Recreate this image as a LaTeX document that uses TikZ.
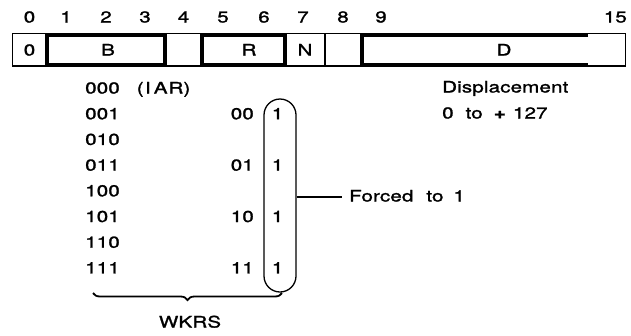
\documentclass[tikz,border=0pt]{standalone}
\usepackage{fontspec}
\setmainfont{TeX Gyre Heros}[FakeStretch=1.3, FakeBold=1.5, LetterSpace=1]
\usetikzlibrary{decorations.pathreplacing}

\begin{document}
\begin{tikzpicture}[x=1pt,y=-1pt,
  lbl/.style={inner sep=0pt, font=\fontsize{15.8}{18}\selectfont, text height=11pt, text depth=0pt},
  rule/.style={line width=1.3pt},
  fieldbox/.style={line width=3.6pt}]
\useasboundingbox (0,0) rectangle (631,335);

% instruction word: bit numbers
\foreach \x/\b in {29.5/0,66/1,106/2,145/3,183.5/4,223/5,264/6,303/7,343/8,381/9}
  \node[lbl] (bit\b) at (\x,17) {\b};
\node[lbl, anchor=east] (bit15) at (627,17) {15};

% instruction word: fields
\draw[rule] (12.5,33.5) rectangle (625.5,66);
\foreach \x in {165,202,285,325,362} \draw[rule] (\x,33.5) -- (\x,66);
\draw[fieldbox] (47,35.2) rectangle (165,64.3);
\draw[fieldbox] (202,35.2) rectangle (285,64.3);
\draw[fieldbox] (588,35.2) -- (362,35.2) -- (362,64.3) -- (588,64.3);

\node[lbl] (f0) at (29.5,50) {0};
\node[lbl] (fB) at (108,50) {B};
\node[lbl] (fR) at (249,50) {R};
\node[lbl] (fN) at (305,50) {N};
\node[lbl] (fD) at (504,50) {D};

% base register codes
\foreach \c [count=\i from 0] in {000\hspace{17pt}(\hspace{1.5pt}I\hspace{3pt}A\hspace{1pt}R),001,010,011,100,101,110,111}
  \node[lbl, anchor=west] (r\i) at (85,88+25.7*\i) {\c};

% work register bits
\foreach \c/\i in {00/1,01/3,10/5,11/7} {
  \node[lbl, anchor=east] (w\i) at (254,88+25.7*\i) {\c};
  \node[lbl] (one\i) at (277.5,88+25.7*\i) {1};
}
\node[draw, rule, rounded corners=16pt, minimum width=32pt, minimum height=193pt, inner sep=0pt]
  (cap) at (280,195.5) {};

\coordinate (fend) at (342,197);
\draw[rule] (cap.east |- fend) -- (fend);
\node[lbl, anchor=west] (forced) at (349,196) {Forced\hspace{13pt}to\hspace{10pt}1};

% displacement
\node[lbl, anchor=west] (disp) at (442,87) {Displacement};
\node[lbl, anchor=west] (range) at (442,113) {0\hspace{12pt}to\hspace{11pt}\textbf{+}\hspace{7pt}127};

% brace
\coordinate (brR) at (282,293);
\coordinate (brL) at (93,293);
\draw[line width=1.8pt, decorate, decoration={brace, amplitude=7pt}] (brR) -- (brL);
\node[lbl] (wkrs) at (190,322) {WKRS};
\end{tikzpicture}
\end{document}
